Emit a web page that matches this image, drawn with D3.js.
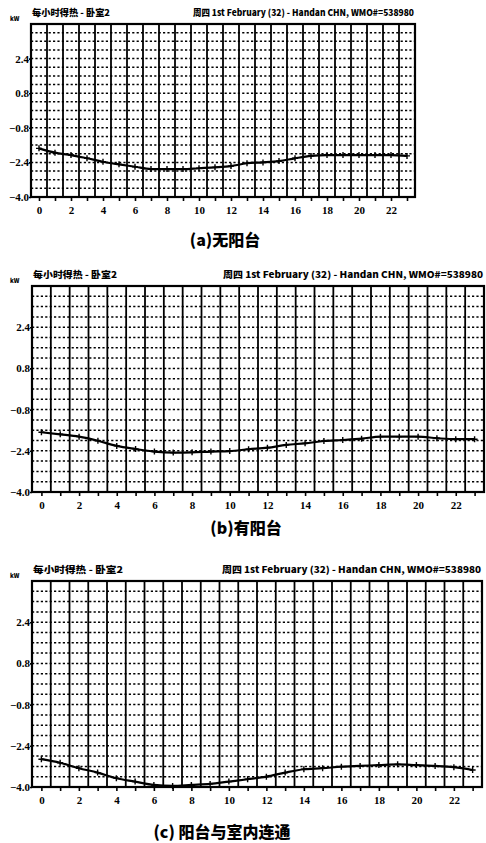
<!DOCTYPE html>
<html>
<head>
<meta charset="utf-8">
<script src="https://cdn.jsdelivr.net/npm/d3@7"></script>
<style>
  body { margin: 0; background: #fff; }
  svg { display: block; }
  .title { font-family: "Noto Sans CJK SC", "Liberation Sans", sans-serif; font-weight: 900; font-size: 9px; fill: #000; }
  .caption { font-family: "Noto Sans CJK SC", sans-serif; font-weight: 900; font-size: 16px; fill: #000; }
</style>
</head>
<body>
<svg width="486" height="843"></svg>
<script>
// hourly heat gain (kW)
const hours = d3.range(0, 24);
const noBalcony = [-1.75, -1.95, -2.06, -2.21, -2.37, -2.49, -2.60, -2.71, -2.71, -2.71, -2.67, -2.63,
                   -2.57, -2.44, -2.40, -2.34, -2.21, -2.10, -2.06, -2.06, -2.06, -2.06, -2.06, -2.10];
const withBalcony = [-1.68, -1.76, -1.85, -2.01, -2.21, -2.33, -2.43, -2.47, -2.46, -2.43, -2.41, -2.34,
                     -2.28, -2.17, -2.11, -2.02, -1.98, -1.93, -1.85, -1.85, -1.85, -1.91, -1.95, -1.95];
const connected = [-2.92, -3.06, -3.27, -3.44, -3.66, -3.79, -3.92, -3.96, -3.92, -3.88, -3.79, -3.70,
                   -3.60, -3.44, -3.31, -3.27, -3.21, -3.18, -3.15, -3.12, -3.15, -3.18, -3.23, -3.34];
const yTicks = [2.4, 0.8, -0.8, -2.4, -4.0];
const xTicks = [0, 2, 4, 6, 8, 10, 12, 14, 16, 18, 20, 22];
const leftTitles = ["每小时得热 - 卧室2", "每小时得热 - 卧室2", "每小时得热 - 卧室2"];
const rightTitle = "周四 1st February (32) - Handan CHN, WMO#=538980";
const captions = ["(a)无阳台", "(b)有阳台", "(c) 阳台与室内连通"];

const svg = d3.select("svg");

const panels = [
    { values: noBalcony,  top: 24,  bottom: 197, left: 31, right: 415, leftW: 78,  rightX: 193, capX: 225, capY: 246 },
    { values: withBalcony, top: 286, bottom: 492, left: 32, right: 484, leftW: 84, rightX: 223, capX: 246, capY: 534 },
    { values: connected,  top: 581, bottom: 787, left: 32, right: 482, leftW: 90,  rightX: 222, capX: 222, capY: 838 }
];

function tickStyle(sel) {
    sel.style("font-family", "'Liberation Serif', serif")
        .style("font-weight", "bold")
        .style("font-size", "11px")
        .attr("fill", "#000");
}

panels.forEach((p, i) => {
    const x = d3.scaleLinear().domain([-0.5, 23.5]).range([p.left, p.right]);
    const y = d3.scaleLinear().domain([-4.0, 4.0]).range([p.bottom, p.top]);
    const g = svg.append("g");

    // dotted horizontal grid, every 0.4
    g.selectAll(".hgrid")
        .data(d3.range(-9, 10).map(k => k * 0.4))
        .enter().append("line")
        .attr("x1", p.left).attr("x2", p.right)
        .attr("y1", d => y(d)).attr("y2", d => y(d))
        .attr("stroke", "#000").attr("stroke-width", 1.5)
        .attr("stroke-dasharray", "2.2,2.2");

    // solid vertical lines between hours
    g.selectAll(".vgrid")
        .data(d3.range(0, 23).map(h => h + 0.5))
        .enter().append("line")
        .attr("x1", d => x(d)).attr("x2", d => x(d))
        .attr("y1", p.top).attr("y2", p.bottom)
        .attr("stroke", "#000").attr("stroke-width", 1.8);

    // frame
    g.append("rect")
        .attr("x", p.left).attr("y", p.top)
        .attr("width", p.right - p.left).attr("height", p.bottom - p.top)
        .attr("fill", "none").attr("stroke", "#000").attr("stroke-width", 2.2);

    // x axis: small ticks at every hour, labels on even hours
    const xAxis = g.append("g")
        .attr("transform", `translate(0, ${p.bottom})`)
        .call(d3.axisBottom(x).tickValues(hours).tickSize(4).tickFormat(d => xTicks.includes(d) ? d : ""));
    xAxis.select(".domain").remove();
    xAxis.selectAll(".tick line").attr("stroke", "#000").attr("stroke-width", 1.6);
    xAxis.selectAll(".tick text").call(tickStyle).attr("dy", "0.9em");

    // y axis labels
    const yAxis = g.append("g")
        .attr("transform", `translate(${p.left}, 0)`)
        .call(d3.axisLeft(y).tickValues(yTicks).tickSize(2).tickFormat(d3.format(".1f")));
    yAxis.select(".domain").remove();
    yAxis.selectAll(".tick line").attr("stroke", "#000").attr("stroke-width", 1.6);
    yAxis.selectAll(".tick text").call(tickStyle).attr("x", -2);

    // unit and titles
    g.append("text").attr("class", "title").attr("x", 10).attr("y", p.top - 3)
        .style("font-size", "6px").text("kW");
    g.append("text").attr("class", "title").attr("x", p.left + 1).attr("y", p.top - 8)
        .attr("textLength", p.leftW).attr("lengthAdjust", "spacingAndGlyphs")
        .text(leftTitles[i]);
    g.append("text").attr("class", "title").attr("x", p.rightX).attr("y", p.top - 8)
        .attr("textLength", p.right - 1 - p.rightX).attr("lengthAdjust", "spacingAndGlyphs")
        .text(rightTitle);

    // data line with small cross markers
    const line = d3.line().x((d, j) => x(hours[j])).y(d => y(d)).curve(d3.curveMonotoneX);
    g.append("path").datum(p.values)
        .attr("d", line)
        .attr("fill", "none").attr("stroke", "#000").attr("stroke-width", 2.2);
    g.selectAll(".mark")
        .data(p.values)
        .enter().append("path")
        .attr("d", (d, j) => `M${x(hours[j]) - 3},${y(d)}h6M${x(hours[j])},${y(d) - 3}v6`)
        .attr("stroke", "#000").attr("stroke-width", 1.4);

    // caption
    svg.append("text").attr("class", "caption")
        .attr("x", p.capX).attr("y", p.capY)
        .attr("text-anchor", "middle")
        .text(captions[i]);
});
</script>
</body>
</html>
